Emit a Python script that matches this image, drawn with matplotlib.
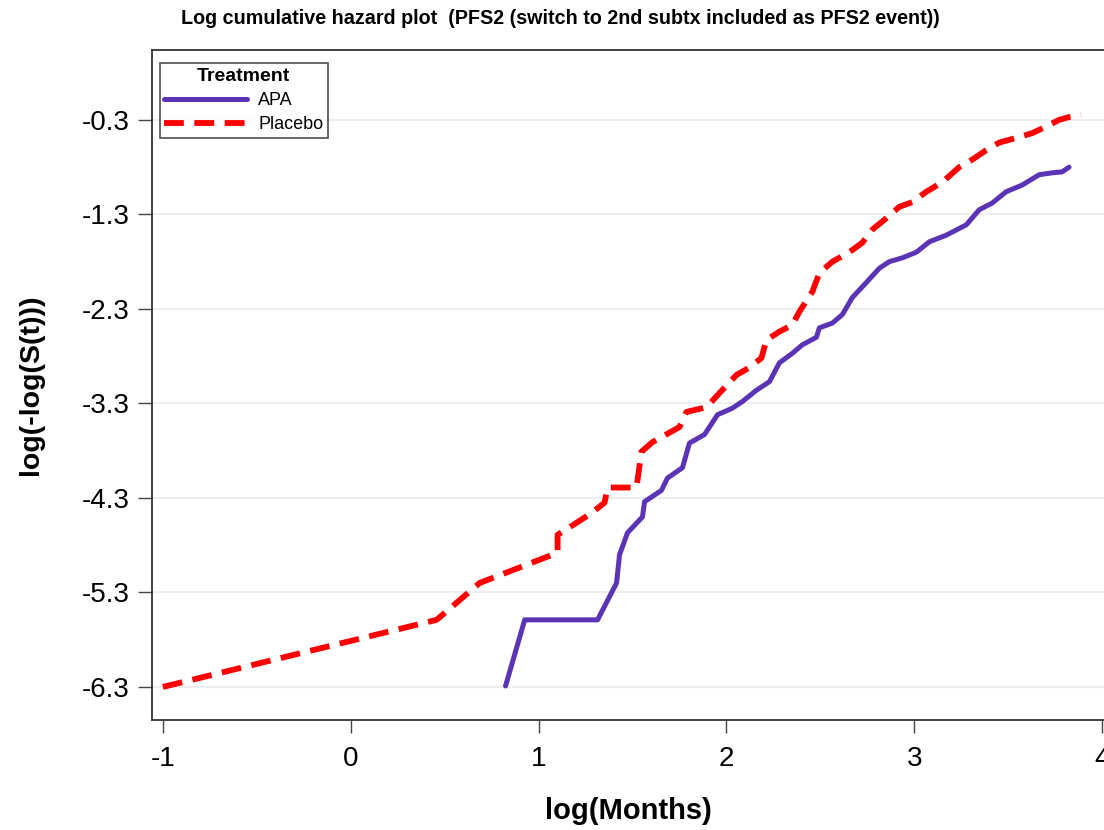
import matplotlib
matplotlib.use("Agg")
import matplotlib.pyplot as plt

# log(Months) / log(-log(S(t)))
placebo_x = [-1.0, 0.457, 0.686, 1.101, 1.101, 1.165, 1.282, 1.351, 1.367, 1.521, 1.548,
             1.606, 1.750, 1.787, 1.894, 1.963, 2.053, 2.122, 2.186, 2.213, 2.282, 2.351,
             2.388, 2.457, 2.495, 2.564, 2.654, 2.723, 2.777, 2.851, 2.920, 2.989, 3.064,
             3.149, 3.239, 3.309, 3.383, 3.452, 3.543, 3.628, 3.702, 3.771, 3.824, 3.888]
placebo_y = [-6.30, -5.59, -5.20, -4.88, -4.69, -4.61, -4.46, -4.35, -4.19, -4.19, -3.81,
             -3.71, -3.55, -3.39, -3.34, -3.19, -3.00, -2.92, -2.82, -2.63, -2.54, -2.47,
             -2.33, -2.12, -1.92, -1.80, -1.70, -1.60, -1.46, -1.34, -1.22, -1.17, -1.06,
             -0.96, -0.80, -0.72, -0.62, -0.54, -0.49, -0.44, -0.37, -0.30, -0.27, -0.25]

apa_x = [0.824, 0.926, 1.314, 1.415, 1.431, 1.473, 1.553, 1.564, 1.654, 1.686, 1.766,
         1.803, 1.883, 1.926, 1.952, 2.032, 2.085, 2.160, 2.229, 2.282, 2.351, 2.404,
         2.479, 2.495, 2.564, 2.617, 2.670, 2.745, 2.814, 2.867, 2.936, 3.011, 3.080,
         3.170, 3.277, 3.346, 3.415, 3.489, 3.574, 3.665, 3.734, 3.787, 3.824]
apa_y = [-6.29, -5.59, -5.59, -5.20, -4.90, -4.67, -4.50, -4.34, -4.22, -4.09, -3.98,
         -3.72, -3.63, -3.50, -3.42, -3.35, -3.28, -3.16, -3.07, -2.87, -2.77, -2.68,
         -2.60, -2.50, -2.45, -2.36, -2.18, -2.02, -1.87, -1.80, -1.76, -1.70, -1.59,
         -1.52, -1.41, -1.25, -1.18, -1.06, -0.99, -0.88, -0.86, -0.85, -0.80]

x_ticks = [-1, 0, 1, 2, 3, 4]
y_ticks = [-0.3, -1.3, -2.3, -3.3, -4.3, -5.3, -6.3]

plt.rcParams['font.family'] = ['Liberation Sans', 'DejaVu Sans']

fig = plt.figure(figsize=(11.04, 8.30), dpi=100)
ax = fig.add_axes([0.1377, 0.1325, 0.8623, 0.8073])

for yv in y_ticks:
    ax.axhline(yv, color='#eeeeee', linewidth=1.5, zorder=0)

ax.plot(apa_x, apa_y, color='#5b33b5', linewidth=3.6, label='APA',
        solid_joinstyle='round', solid_capstyle='round')
ax.plot(placebo_x, placebo_y, color='#ff0000', linewidth=4.2, label='Placebo',
        dashes=(3.4, 1.8))

ax.set_xlim(-1.058, 4.01)
ax.set_ylim(-6.65, 0.44)
ax.set_xticks(x_ticks)
ax.set_xticklabels([str(v) for v in x_ticks])
ax.set_yticks(y_ticks)
ax.set_yticklabels([f'{v:.1f}' for v in y_ticks])

ax.tick_params(axis='x', length=9, width=1, color='#444444', labelsize=20, pad=10)
ax.tick_params(axis='y', length=10, width=1, color='#444444', labelsize=20, pad=6)
for side in ['left', 'bottom', 'top']:
    ax.spines[side].set_color('#333333')
    ax.spines[side].set_linewidth(1.3)
ax.spines['right'].set_visible(False)

ax.set_xlabel('log(Months)', fontsize=21, fontweight='bold', labelpad=18)
ax.set_ylabel('log(-log(S(t)))', fontsize=20.5, fontweight='bold', labelpad=27)

fig.text(0.508, 0.978, 'Log cumulative hazard plot  (PFS2 (switch to 2nd subtx included as PFS2 event))',
         ha='center', va='center', fontsize=14.2, fontweight='bold')

leg = ax.legend(loc='upper left', bbox_to_anchor=(0.008, 0.98), title='Treatment',
                fontsize=13, title_fontproperties={'weight': 'bold', 'size': 14},
                frameon=True, fancybox=False, edgecolor='#222222', handlelength=4.6,
                borderpad=0.25, labelspacing=0.4, handletextpad=0.6, borderaxespad=0.0)
leg.get_frame().set_linewidth(1.2)

fig.savefig('out.png', dpi=100)
